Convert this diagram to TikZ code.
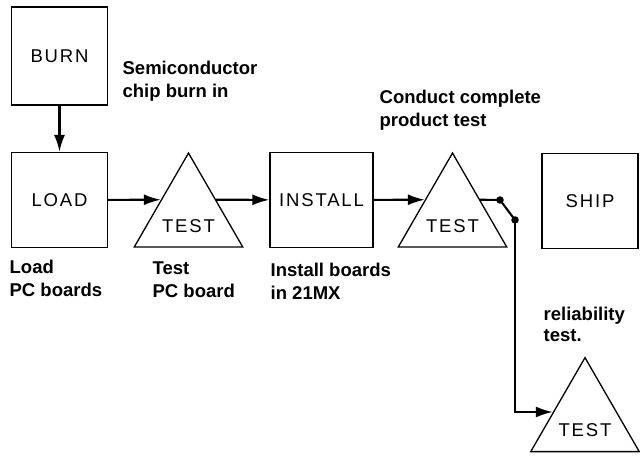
\documentclass[tikz,border=0pt]{standalone}
\usepackage{fontspec}
\setmainfont{Liberation Sans}
\newfontfamily\boxfont[LetterSpace=10]{Liberation Sans}
\usetikzlibrary{shapes.geometric,arrows.meta,calc}

\begin{document}
\begin{tikzpicture}[x=1bp, y=-1bp, line width=1.3bp,
  >={Latex[length=17bp,width=11bp]},
  every node/.style={font=\bfseries\fontsize{18.5bp}{23bp}\selectfont},
  stage/.style={draw, minimum width=96bp, minimum height=95bp,
    font=\boxfont\fontsize{18.5bp}{23bp}\selectfont},
  check/.style={draw, regular polygon, regular polygon sides=3,
    minimum size=125.3bp, inner sep=0pt,
    label={[yshift=-10bp, font=\boxfont\fontsize{18.5bp}{23bp}\selectfont]center:TEST}},
  flow/.style={line width=2.1bp},
  joint/.style={circle, fill, inner sep=0pt, minimum size=7.5bp},
  note/.style={anchor=base west, align=left, inner sep=0pt}]
\useasboundingbox (0,0) rectangle (640,457);
% stages of the line
\node[stage, minimum height=98bp] (burn) at (59.5,56) {BURN};
\node[stage] (load) at (59.5,200) {LOAD};
\node[check] (tri1) at (188.5,215.7) {};
\node[stage, minimum width=103bp] (install) at (321.5,200) {INSTALL};
\node[check] (tri2) at (452.5,215.7) {};
\node[stage] (ship) at (590,201) {SHIP};
\node[check] (tri3) at (585,420.3) {};
\node[joint] (j1) at (500,200) {};
\node[joint] (j2) at (515,220) {};
% notes (placed at the last baseline)
\node[note] (burnnote) at (122,98) {Semiconductor\\chip burn in};
\node[note] (testnote) at (379,127) {Conduct complete\\product test};
\node[note] (loadnote) at (9,297) {Load\\PC boards};
\node[note] (boardnote) at (152,298) {Test\\PC board};
\node[note] (installnote) at (270,300) {Install boards\\in 21MX};
\node[note, font=\bfseries\fontsize{18.5bp}{21bp}\selectfont] (relnote) at (543,341) {reliability\\test.};
% flow
\draw[->, flow] (burn) -- (load);
\draw[->, flow] (load) -- (tri1.side 1);
\draw[->, flow] (tri1.side 3) -- (install);
\draw[->, flow] (install) -- (tri2.side 1);
\draw[flow] (tri2.side 3) -- (j1.center) -- (j2.center);
\draw[->, flow] (j2.center) |- ($(tri3.corner 1)!0.58!(tri3.corner 2)$);
\end{tikzpicture}
\end{document}
